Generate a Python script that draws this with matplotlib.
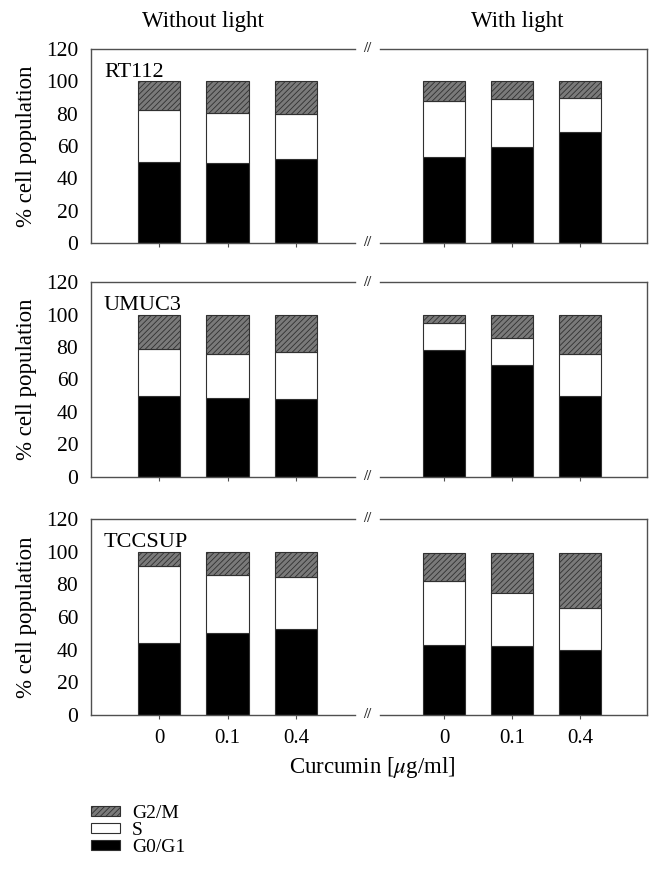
#!/usr/bin/env python3
"""
Cell cycle distribution (G0/G1, S, G2/M) of bladder cancer cell lines
after curcumin treatment, with and without light.
"""

import matplotlib
matplotlib.use("Agg")
import matplotlib.pyplot as plt
from matplotlib.patches import Patch

plt.rcParams['font.family'] = ['Liberation Serif', 'DejaVu Serif']
plt.rcParams['mathtext.fontset'] = 'stix'
plt.rcParams['hatch.linewidth'] = 0.6

doses = ['0', '0.1', '0.4']
cell_lines = ['RT112', 'UMUC3', 'TCCSUP']

# values, % of cell population
g0g1_dark = {'RT112': [50, 49.5, 52], 'UMUC3': [50, 48.5, 48], 'TCCSUP': [44, 50.5, 52.5]}
s_dark = {'RT112': [32, 31, 28], 'UMUC3': [29, 27.5, 29], 'TCCSUP': [47, 35, 32]}
g2m_dark = {'RT112': [18, 19.5, 20], 'UMUC3': [21, 24, 23], 'TCCSUP': [9, 14.5, 15.5]}

g0g1_light = {'RT112': [53.5, 59.5, 68.5], 'UMUC3': [78, 69, 50], 'TCCSUP': [43, 42.5, 40]}
s_light = {'RT112': [34.5, 29.5, 21], 'UMUC3': [16.5, 16.5, 25.5], 'TCCSUP': [39, 32.5, 25.5]}
g2m_light = {'RT112': [12, 11, 10.5], 'UMUC3': [5.5, 14.5, 24.5], 'TCCSUP': [17, 24, 33.5]}

W, H = 662, 873
SPINE = '#505050'
G2M_FACE = '#7a7a7a'


def stacked(ax, g0, s, g2):
    x = range(len(doses))
    kw = dict(width=0.62, edgecolor='#303030', linewidth=0.8)
    ax.bar(x, g0, color='black', **kw)
    ax.bar(x, s, bottom=g0, color='white', **kw)
    tops = [a + b for a, b in zip(g0, s)]
    ax.bar(x, g2, bottom=tops, color=G2M_FACE, hatch='//////', **kw)


def style(ax, left_side):
    ax.set_ylim(0, 120)
    ax.set_xticks(range(len(doses)))
    ax.set_xticklabels(doses, fontsize=15)
    ax.tick_params(axis='x', length=3, width=0.8, color=SPINE, pad=7)
    for sp in ax.spines.values():
        sp.set_color(SPINE)
        sp.set_linewidth(1.0)
    if left_side:
        ax.set_xlim(-1.0, 2.86)
        ax.spines['right'].set_visible(False)
        ax.set_yticks(range(0, 121, 20))
        ax.tick_params(axis='y', length=0, pad=9, labelsize=15.5)
    else:
        ax.set_xlim(-0.94, 2.98)
        ax.spines['left'].set_visible(False)
        ax.set_yticks([])


def main():
    fig = plt.figure(figsize=(W / 100, H / 100), dpi=100)

    # panel extents in pixels (top, bottom)
    panels = [(49, 243), (282, 477), (519, 715)]
    left_x, left_w = 90.7, 264.3
    right_x, right_w = 380, 267

    for i, (name, (top, bot)) in enumerate(zip(cell_lines, panels)):
        y0 = 1 - bot / H
        h = (bot - top) / H
        axl = fig.add_axes([left_x / W, y0, left_w / W, h])
        axr = fig.add_axes([right_x / W, y0, right_w / W, h])

        stacked(axl, g0g1_dark[name], s_dark[name], g2m_dark[name])
        stacked(axr, g0g1_light[name], s_light[name], g2m_light[name])
        style(axl, True)
        style(axr, False)

        last = i == len(cell_lines) - 1
        if not last:
            axl.set_xticklabels([])
            axr.set_xticklabels([])

        axl.set_ylabel('% cell population', fontsize=16.5, labelpad=6)
        axl.text(0.05, 0.88, name, transform=axl.transAxes, fontsize=16,
                 ha='left', va='center')

        # axis break marks
        for yy in (top, bot):
            fig.text(367 / W, 1 - yy / H, '//', fontsize=10.5, ha='center',
                     va='center', color='#303030', fontweight='bold')

    fig.text(203 / W, 1 - 22 / H, 'Without light', fontsize=16.5, ha='center', va='center')
    fig.text(517 / W, 1 - 22 / H, 'With light', fontsize=16.5, ha='center', va='center')
    fig.text(372 / W, 1 - 767 / H, 'Curcumin [$\\mu$g/ml]', fontsize=16.5,
             ha='center', va='center')

    handles = [
        Patch(facecolor=G2M_FACE, edgecolor='#303030', hatch='//////', linewidth=0.8, label='G2/M'),
        Patch(facecolor='white', edgecolor='#303030', linewidth=0.8, label='S'),
        Patch(facecolor='black', edgecolor='#303030', linewidth=0.8, label='G0/G1'),
    ]
    fig.legend(handles=handles, loc='upper left', bbox_to_anchor=(91 / W, 1 - 805 / H),
               frameon=False, fontsize=14, borderpad=0, borderaxespad=0,
               handlelength=1.5, handleheight=0.35, handletextpad=0.6,
               labelspacing=0.0)

    fig.savefig('out.png', dpi=100)
    plt.close(fig)


if __name__ == "__main__":
    main()
